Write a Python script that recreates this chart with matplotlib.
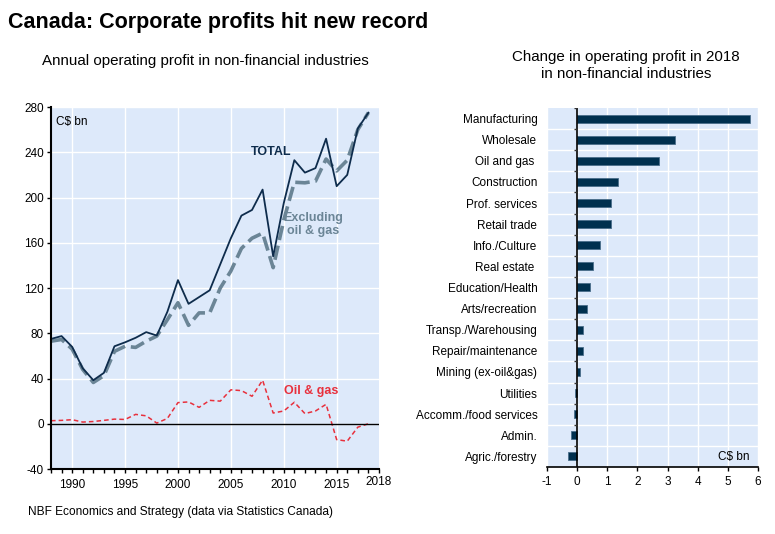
import matplotlib.pyplot as plt
import numpy as np

plt.rcParams.update({
    "font.size": 8.5,
    "font.family": ['Liberation Sans', 'DejaVu Sans'],
    "axes.unicode_minus": False,
})

# annual operating profit, C$ bn
years = list(range(1988, 2019))
total = [75, 77.5, 68, 49, 38.5, 45, 68.5, 72, 76, 81, 78, 99,
         127, 106, 112, 118, 141, 164, 184, 189, 207, 148, 195, 233,
         222, 226, 252, 210, 220, 261, 275]
ex_oil = [73, 74.5, 66, 48, 36.5, 42.5, 64, 68.5, 67.5, 73, 77.5, 92,
          107, 87, 98, 98, 120, 135, 155, 164, 168.5, 138, 180, 213.5,
          213, 214.5, 234, 223.5, 233, 260, 275]
oil_gas = [2.7, 3, 3.6, 1.5, 2, 3, 4.1, 3.8, 8.3, 7, 0.6, 4.7,
           18.7, 19.3, 14.5, 20.7, 20, 30, 29.3, 24.3, 38.5, 9.5, 11.3, 19,
           9, 11.3, 17.2, -14, -15.4, -3, 0]

# change in 2018, C$ bn
industries = ['Manufacturing', 'Wholesale', 'Oil and gas ', 'Construction',
              'Prof. services', 'Retail trade', 'Info./Culture', 'Real estate ',
              'Education/Health', 'Arts/recreation', 'Transp./Warehousing',
              'Repair/maintenance', 'Mining (ex-oil&gas)', 'Utilities',
              'Accomm./food services', 'Admin.', 'Agric./forestry']
change = [5.74, 3.26, 2.73, 1.36, 1.13, 1.11, 0.75, 0.51, 0.43, 0.33,
          0.2, 0.18, 0.09, -0.08, -0.11, -0.21, -0.29]

bg = '#DDE9FA'
navy = '#0E2C4C'
grey = '#6B8596'
red = '#E8303C'
bar_col = '#00304F'

fig = plt.figure(figsize=(7.75, 5.34), dpi=100)

fig.text(0.010, 0.977, 'Canada: Corporate profits hit new record',
         fontsize=15.5, fontweight='bold', va='top')
fig.text(0.265, 0.886, 'Annual operating profit in non-financial industries',
         fontsize=10.9, ha='center', va='center')
fig.text(0.808, 0.877, 'Change in operating profit in 2018\nin non-financial industries',
         fontsize=10.9, ha='center', va='center', linespacing=1.25)
fig.text(0.036, 0.041, 'NBF Economics and Strategy (data via Statistics Canada)',
         fontsize=8.6, va='center')

# left panel
ax = fig.add_axes([0.0658, 0.1217, 0.4232, 0.6779])
ax.set_facecolor(bg)
ax.plot(years, oil_gas, color=red, lw=1.1, ls=(0, (3, 2)))
ax.plot(years, ex_oil, color=grey, lw=2.6, ls=(0, (4, 1.6)))
ax.plot(years, total, color=navy, lw=1.3)
ax.axhline(0, color='black', lw=1)

ax.set_xlim(1988, 2019)
ax.set_ylim(-40, 280)
ax.set_yticks(np.arange(-40, 281, 40))
ax.set_xticks(range(1990, 2016, 5))
ax.set_xticks(range(1988, 2020), minor=True)
ax.grid(True, color='white', lw=1)
ax.set_axisbelow(True)
for s in ['top', 'right']:
    ax.spines[s].set_visible(False)
ax.spines['left'].set_linewidth(1.5)
ax.spines['bottom'].set_linewidth(1.5)
ax.tick_params(axis='x', which='both', length=3, width=1, direction='out', pad=4)
ax.tick_params(axis='y', length=3, width=1, pad=2)
ax.text(2019, -46, '2018', ha='center', va='top', fontsize=8.5)

ax.text(0.015, 0.975, 'C$ bn', transform=ax.transAxes, va='top', fontsize=8.5)
ax.text(2008.8, 240, 'TOTAL', color=navy, fontweight='bold', ha='center', va='center', fontsize=9)
ax.text(2012.8, 176, 'Excluding\noil & gas', color=grey, fontweight='bold',
        ha='center', va='center', fontsize=9, linespacing=1.05)
ax.text(2012.6, 29, 'Oil & gas', color=red, fontweight='bold', ha='center', va='center', fontsize=9)

# right panel
bx = fig.add_axes([0.7058, 0.1255, 0.2723, 0.6723])
bx.set_facecolor(bg)
pos = np.arange(len(industries))
bx.barh(pos, change, height=0.38, color=bar_col, edgecolor='#4A6E8A', lw=0.6, zorder=3)
bx.set_ylim(len(industries) - 0.5, -0.5)
bx.set_xlim(-1, 6)
bx.set_xticks(range(-1, 7))
bx.set_yticks(pos)
bx.set_yticklabels(industries)
bx.set_yticks(pos[:-1] + 0.5, minor=True)
bx.grid(True, axis='x', color='white', lw=1)
bx.grid(True, axis='y', which='minor', color='white', lw=1)
bx.set_axisbelow(True)
bx.tick_params(axis='y', which='both', length=0, pad=7)
bx.tick_params(axis='x', length=3, width=1)
for s in ['top', 'right', 'left']:
    bx.spines[s].set_visible(False)
bx.spines['bottom'].set_linewidth(1.2)
bx.axvline(0, color='black', lw=1.2, zorder=4)
bound = np.arange(len(industries) + 1) - 0.5
bx.hlines(bound, -0.12, 0, color='#333333', lw=1, zorder=4)
bx.text(0.96, 0.012, 'C$ bn', transform=bx.transAxes, ha='right', va='bottom', fontsize=8.5)

fig.savefig('out.png', dpi=100)
